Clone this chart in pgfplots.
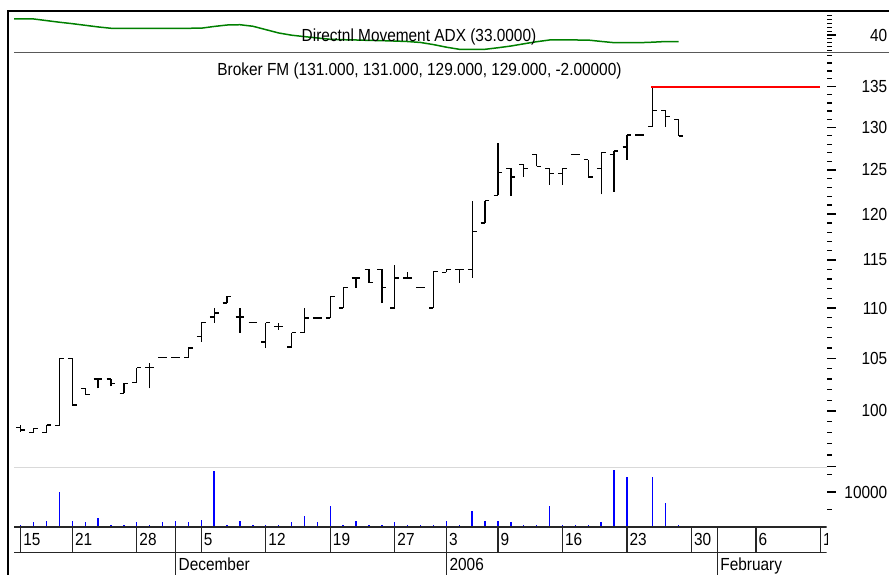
\documentclass[border=0pt]{standalone}
\usepackage{fontspec}
\setmainfont{Liberation Sans}[FakeStretch=0.88]
\usepackage{pgfplots}
\usepackage{pgfplotstable}
\pgfplotsset{compat=1.18}
\definecolor{adxgreen}{RGB}{0,128,0}
\definecolor{volblue}{RGB}{0,0,255}

\pgfplotstableread{
i O H L C
0 98.5 98.75 98.1 98.25
1 98.05 98.4 98.05 98.4
2 98.05 98.7 98.05 98.7
3 98.65 105 98.65 105
4 105 105 100.55 100.55
5 102.1 102.1 101.5 101.5
6 103 103 102.1 103
7 103 103 102.3 102.6
8 101.65 102.6 101.65 102.6
9 102.65 104.1 102.65 104.1
10 104.1 104.5 102.1 104.1
11 105.05 105.05 105.05 105.05
12 105.05 105.05 105.05 105.05
13 105.05 106 105.05 106
14 107.1 108.5 106.6 108.5
15 109.1 110 108.5 109.5
16 110.5 111.2 110.5 111.2
17 109.1 110 107.5 109.1
18 108.5 108.5 108.5 108.5
19 106.6 108.5 106 108.5
20 108.1 108.5 107.8 108.1
21 106.1 107.5 106.1 107.5
22 107.5 110 107.5 109
23 109 109 109 109
24 109 111.2 109 111.2
25 110 112.1 110 112.1
26 113.1 113.1 112.1 113.1
27 114 114 112.6 112.6
28 114 114 110.5 112.1
29 110 114.5 110 113.1
30 113.1 113.7 113.1 113.1
31 112.1 112.1 112.1 112.1
32 110 113.8 110 113.8
33 113.7 114 113.7 114
34 114 114 112.6 114
35 114 121.5 113.1 118.1
36 119 121.5 119 121.5
37 122.1 128.1 122.1 124.7
38 125.2 125.2 122 124.2
39 125.6 125.6 124.2 125.2
40 126.8 126.8 125.4 125.4
41 125.2 125.2 123.3 124.6
42 124.6 125.2 123.3 125.2
43 126.8 126.8 126.8 126.8
44 126.2 126.2 124.2 124.2
45 125.2 127 122.2 127
46 126.8 127.2 122.5 127.2
47 127.7 129.1 126.2 129.1
48 129.1 129.1 129.1 129.1
49 130.1 135 130.1 132.1
50 132.1 132.1 130.1 131.3
51 131 131 129 129
}\ohlc

\pgfplotstableread{
i A
-1 56.7
0 56.7
1 56.7
2 55.0
3 53.3
4 51.8
5 50.1
6 48.4
7 47.0
8 47.0
9 47.0
10 47.0
11 47.0
12 47.0
13 47.0
14 47.1
15 48.9
16 50.4
17 50.7
18 49.1
19 45.6
20 42.1
21 39.8
22 38.3
23 36.9
24 35.5
25 35.1
26 34.8
27 34.4
28 34.1
29 33.7
30 33.2
31 32.2
32 30.0
33 27.3
34 25.1
35 25.1
36 25.1
37 26.7
38 28.5
39 30.8
40 33.0
41 34.8
42 34.8
43 34.8
44 34.7
45 33.3
46 32.0
47 32.0
48 32.0
49 32.5
50 33.2
51 33.0
}\adx

\pgfplotstableread{
i V
0 700
1 1300
2 1800
3 10000
4 1800
5 1300
6 2700
7 700
8 700
9 1300
10 700
11 1300
12 1800
13 1300
14 2100
15 15900
16 700
17 1800
18 700
19 700
20 700
21 1300
22 3000
23 1300
24 5900
25 700
26 1800
27 700
28 700
29 1300
30 700
31 700
32 700
33 1800
34 700
35 4500
36 1800
37 1800
38 1300
39 700
40 700
41 5900
42 700
43 700
44 700
45 1300
46 16400
47 14200
48 400
49 14200
50 6900
51 700
}\vol

\begin{document}
\fontsize{17.5pt}{21pt}\selectfont
\begin{tikzpicture}[font=\fontsize{17.5pt}{21pt}\selectfont]
\useasboundingbox (0pt,0pt) rectangle (889pt,575pt);
\pgfplotsset{
  panel/.style={
    scale only axis, width=812.5pt, xmin=-0.52, xmax=62.47,
    anchor=south west, axis line style={draw=none},
    xtick=\empty, ytick pos=right, tick align=outside,
    major tick length=9pt, minor tick length=5pt,
    every tick/.style={black, line width=1.2pt},
    yticklabel style={anchor=east, inner sep=0pt, xshift=52pt},
    scaled y ticks=false,
  },
  ohlcbar/.style={black, line width=1.3pt, mark=none, forget plot},
}
% ADX panel
\begin{axis}[panel, at={(14pt,522pt)}, height=42pt,
  ymin=21.25, ymax=65, ytick={40}, yticklabels={40},
  minor ytick={24,28,32,36,44,48,52,56,60}]
\addplot[adxgreen, line width=1.5pt] table[x=i, y=A] {\adx};
\end{axis}
% price panel
\begin{axis}[panel, at={(14pt,107pt)}, height=415pt,
  ymode=log, ymin=94.86, ymax=139.3,
  ytick={95,100,105,110,115,120,125,130,135},
  yticklabels={,100,105,110,115,120,125,130,135},
  minor ytick={95,96,97,98,99,100,101,102,103,104,105,106,107,108,109,110,111,112,113,114,115,116,117,118,119,120,121,122,123,124,125,126,127,128,129,130,131,132,133,134,135,136,137,138,139}]
\pgfplotsinvokeforeach{0,...,51}{
  \pgfplotstablegetelem{#1}{O}\of\ohlc \edef\vO{\pgfplotsretval}
  \pgfplotstablegetelem{#1}{H}\of\ohlc \edef\vH{\pgfplotsretval}
  \pgfplotstablegetelem{#1}{L}\of\ohlc \edef\vL{\pgfplotsretval}
  \pgfplotstablegetelem{#1}{C}\of\ohlc \edef\vC{\pgfplotsretval}
  \pgfmathsetmacro\xl{#1-0.34}
  \pgfmathsetmacro\xr{#1+0.34}
  \edef\cmd{\noexpand\addplot[ohlcbar] coordinates {(#1,\vL) (#1,\vH)};
    \noexpand\addplot[ohlcbar] coordinates {(\xl,\vO) (#1,\vO)};
    \noexpand\addplot[ohlcbar] coordinates {(#1,\vC) (\xr,\vC)};}
  \cmd
}
\addplot[red, line width=1.5pt] coordinates {(48.9,135) (62,135)};
\end{axis}
% volume panel
\begin{axis}[panel, at={(14pt,48pt)}, height=59pt,
  ymin=0, ymax=16857, ytick={10000}, yticklabels={10000},
  minor ytick={5000,15000}]
\addplot[ycomb, volblue, line width=1.4pt] table[x=i, y=V] {\vol};
\end{axis}
% date row
\begin{axis}[panel, at={(14pt,22pt)}, height=26pt, ymin=0, ymax=1, ytick=\empty,
  xtick={0,4,9,14,19,24,29,33,37,42,47,52,57,62},
  xticklabels={15,21,28,5,12,19,27,3,9,16,23,30,6,13},
  xmajorgrids, major grid style={black!85, line width=1.3pt},
  major tick length=0pt,
  xticklabel style={anchor=base west, inner sep=0pt, xshift=2.5pt, yshift=7pt}]
\draw[black!85, line width=1.3pt] (rel axis cs:0,0) -- (rel axis cs:1,0);
\draw[black!85, line width=1.3pt] (rel axis cs:0,1) -- (rel axis cs:1,1);
\end{axis}
% month row
\begin{axis}[panel, at={(14pt,0pt)}, height=48pt, ymin=0, ymax=1, ytick=\empty,
  xtick={12,33,54}, xticklabels={December,2006,February},
  xmajorgrids, major grid style={black!85, line width=1.3pt},
  major tick length=0pt,
  xticklabel style={anchor=base west, inner sep=0pt, xshift=3pt, yshift=4pt}]
\end{axis}
% mask clipped label beyond plot edge
\fill[white] (827.5pt,0pt) rectangle (870pt,47pt);
% frame and separators
\draw[line width=2pt] (7.5pt,0pt) -- (7.5pt,564.2pt) -- (889pt,564.2pt);
\draw[black!65, line width=1pt] (14pt,522pt) -- (889pt,522pt);
\draw[black!15, line width=1pt] (14pt,107pt) -- (826.5pt,107pt);
% titles
\node[anchor=base, inner sep=0pt] at (419pt,533.5pt) {Directnl Movement ADX (33.0000)};
\node[anchor=base, inner sep=0pt] at (419.5pt,499.3pt) {Broker FM (131.000, 131.000, 129.000, 129.000, -2.00000)};
\end{tikzpicture}
\end{document}
